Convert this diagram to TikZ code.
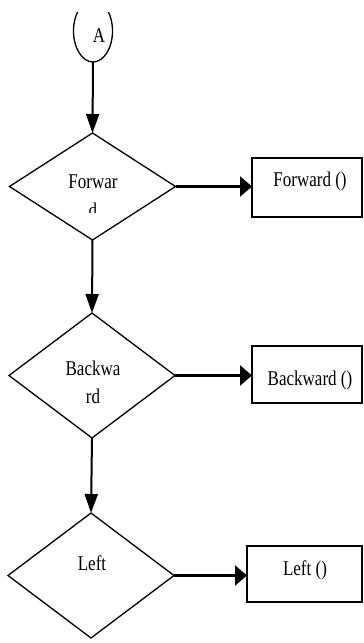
\documentclass[tikz,border=0pt]{standalone}
\usepackage{fontspec}
\usepackage{graphicx}
\setmainfont{Liberation Serif}
\usetikzlibrary{shapes.geometric,arrows.meta}
\newcommand\narrowtxt[1]{\scalebox{0.81}[1]{#1}}
\begin{document}
\begin{tikzpicture}[x=1pt,y=-1pt,
  decision/.style={diamond, draw, line width=1.3pt, minimum width=166pt, minimum height=#1, inner sep=0pt, outer sep=0pt},
  actbox/.style={rectangle, draw, line width=2.5pt, inner sep=0pt, outer sep=0pt},
  lbl/.style={inner sep=0pt, anchor=base, font=\fontsize{21}{25}\selectfont},
  varr/.style={line width=2pt, -{Triangle[length=19pt,width=13pt]}},
  harr/.style={line width=2.3pt, -{Triangle[length=12pt,width=20pt]}}]
\useasboundingbox (0,0) rectangle (364,643);
\begin{scope}
  \clip (0,12) rectangle (364,643);
  \node[ellipse, draw, line width=1.3pt, minimum width=39pt, minimum height=62pt, inner sep=0pt, outer sep=0pt] (A) at (93,31) {};
\end{scope}
\node[lbl] (Atxt) at (99,42) {\narrowtxt{A}};

\node[decision=107pt] (d1) at (92.5,186.5) {};
\node[decision=125pt] (d2) at (92,375.5) {};
\node[decision=125pt] (d3) at (91,575.5) {};

\node[lbl] (d1a) at (93,188) {\narrowtxt{Forwar}};
\begin{scope}
  \clip (0,0) rectangle (364,212);
  \node[lbl] (d1b) at (93,217) {\narrowtxt{d}};
\end{scope}
\node[lbl] (d2a) at (93,375) {\narrowtxt{Backwa}};
\node[lbl] (d2b) at (93,403) {\narrowtxt{rd}};
\node[lbl] (d3a) at (92,570) {\narrowtxt{Left}};

\node[actbox, minimum width=110pt, minimum height=59pt] (b1) at (307,187.5) {};
\node[actbox, minimum width=110pt, minimum height=57pt] (b2) at (307,374.5) {};
\node[actbox, minimum width=115pt, minimum height=56pt] (b3) at (304.5,574) {};

\node[lbl] (b1t) at (310,186) {\narrowtxt{Forward ()}};
\node[lbl] (b2t) at (310,385) {\narrowtxt{Backward ()}};
\node[lbl] (b3t) at (305,575) {\narrowtxt{Left ()}};

\draw[varr] (A.south) -- (d1.north);
\draw[varr] (d1.south) -- (d2.north);
\draw[varr] (d2.south) -- (d3.north);

\draw[harr] (d1.east) -- (d1.east -| b1.west);
\draw[harr] (d2.east) -- (d2.east -| b2.west);
\draw[harr] (d3.east) -- (d3.east -| b3.west);
\end{tikzpicture}
\end{document}
